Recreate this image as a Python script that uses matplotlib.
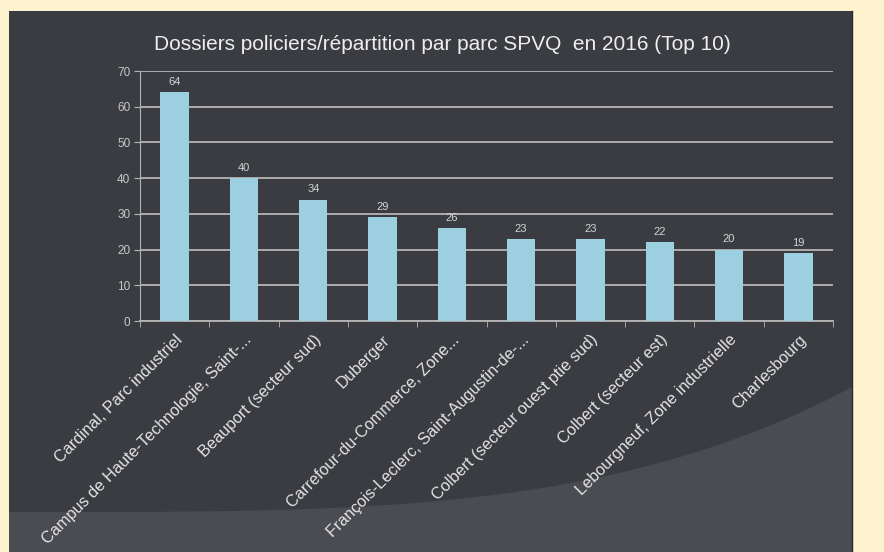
import matplotlib
matplotlib.use("Agg")
import matplotlib.pyplot as plt
import numpy as np
from matplotlib.patches import Rectangle, Polygon

categories = ["Cardinal, Parc industriel", "Campus de Haute-Technologie, Saint-...",
              "Beauport (secteur sud)", "Duberger", "Carrefour-du-Commerce, Zone...",
              "François-Leclerc, Saint-Augustin-de-...", "Colbert (secteur ouest ptie sud)",
              "Colbert (secteur est)", "Lebourgneuf, Zone industrielle", "Charlesbourg"]
values = [64, 40, 34, 29, 26, 23, 23, 22, 20, 19]
yticks = [0, 10, 20, 30, 40, 50, 60, 70]
title = "Dossiers policiers/répartition par parc SPVQ  en 2016 (Top 10)"

plt.rcParams['font.family'] = ['Liberation Sans', 'DejaVu Sans']
W, H = 884, 552
fig = plt.figure(figsize=(W/100, H/100), dpi=100)
fig.patch.set_facecolor('#fdf3cf')

# dark panel
bg = fig.add_axes([0, 0, 1, 1])
bg.set_xlim(0, W); bg.set_ylim(H, 0); bg.axis('off')
bg.add_patch(Rectangle((9, 11), 843, 541, facecolor='#3a3c41', edgecolor='none'))
xs = np.linspace(9, 852, 80)
ys = 512 - 125 * ((xs - 9) / 843) ** 3.6
poly = np.vstack([np.column_stack([xs, ys]), [[852, 552], [9, 552]]])
bg.add_patch(Polygon(poly, closed=True, facecolor='#4a4c51', edgecolor='none'))
bg.plot([852, 852], [11, 552], color='#2a2a2a', lw=1)

ax = fig.add_axes([140/W, 1 - 321/H, (833-140)/W, (321-71)/H])
ax.set_facecolor('none')
x = np.arange(len(categories))
ax.bar(x, values, width=0.41, color='#9ccfdf', zorder=3)
for xi, v in zip(x, values):
    ax.text(xi, v + 1.5, str(v), ha='center', va='bottom', color='#d4d4d4', fontsize=8)
ax.set_xlim(-0.5, len(categories) - 0.5)
ax.set_ylim(0, 70)
ax.set_yticks(yticks)
ax.set_yticklabels([str(t) for t in yticks], color='#c8c8c8', fontsize=8.5)
ax.yaxis.grid(True, color='#b5b5b5', lw=1.3, zorder=0)
ax.set_xticks(x)
ax.set_xticklabels(categories, rotation=45, ha='right', rotation_mode='anchor',
                   color='#e4e4e4', fontsize=11.7)
ax.set_xticks(np.arange(-0.5, len(categories)), minor=True)
ax.tick_params(axis='x', which='major', length=0, pad=8)
ax.tick_params(axis='x', which='minor', length=4, color='#b5b5b5')
ax.tick_params(axis='y', length=4, color='#b5b5b5', pad=3)
for s in ['top', 'right']:
    ax.spines[s].set_visible(False)
ax.spines['left'].set_color('#b5b5b5')
ax.spines['bottom'].set_color('#b5b5b5')
ax.spines['bottom'].set_linewidth(1.3)

fig.text(442/W, 1 - 44/H, title, ha='center', va='center', color='#eeeeee', fontsize=15)

fig.savefig('out.png', dpi=100, facecolor=fig.get_facecolor())
